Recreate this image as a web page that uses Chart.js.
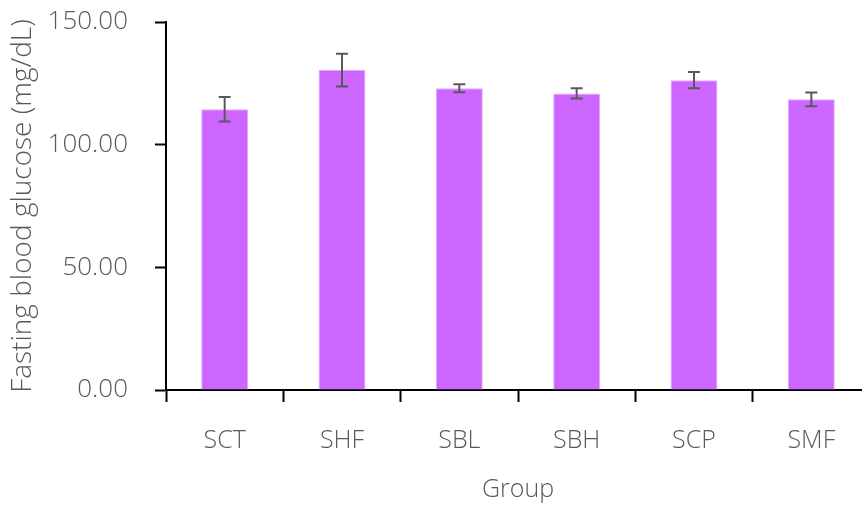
<!DOCTYPE html>
<html>
<head>
<meta charset="utf-8">
<script src="https://cdn.jsdelivr.net/npm/chart.js@4"></script>
<style>
  html, body { margin: 0; padding: 0; background: #fff; overflow: hidden; }
  #wrap { width: 862px; height: 509px; overflow: hidden; }
</style>
</head>
<body>
<div id="wrap"><canvas id="barChart" width="872" height="509"></canvas></div>
<script>
const groups = ["SCT", "SHF", "SBL", "SBH", "SCP", "SMF"];
const glucose = [114.4, 130.4, 123.0, 120.9, 126.3, 118.5];
const glucoseErr = [5.0, 6.7, 1.6, 2.1, 3.3, 2.8];
const yTicks = [0, 50, 100, 150];

const textColor = "#595959";
const fontFamily = "'Open Sans', 'Noto Sans', sans-serif";

// draws the +/- error whiskers on top of each bar
const errorBars = {
  id: "errorBars",
  afterDatasetsDraw(chart) {
    const ctx = chart.ctx;
    const meta = chart.getDatasetMeta(0);
    const yScale = chart.scales.y;
    ctx.save();
    ctx.strokeStyle = "#595959";
    ctx.lineWidth = 2;
    meta.data.forEach((bar, i) => {
      const x = bar.x;
      const top = yScale.getPixelForValue(glucose[i] + glucoseErr[i]);
      const bottom = yScale.getPixelForValue(glucose[i] - glucoseErr[i]);
      ctx.beginPath();
      ctx.moveTo(x, top);
      ctx.lineTo(x, bottom);
      ctx.moveTo(x - 6, top);
      ctx.lineTo(x + 6, top);
      ctx.moveTo(x - 6, bottom);
      ctx.lineTo(x + 6, bottom);
      ctx.stroke();
    });
    ctx.restore();
  },
};

const ctx = document.getElementById("barChart").getContext("2d");
new Chart(ctx, {
  type: "bar",
  data: {
    labels: groups,
    datasets: [
      {
        label: "Fasting blood glucose",
        data: glucose,
        backgroundColor: "#cc66ff",
        borderColor: "#e2a6ff",
        borderWidth: 1,
        categoryPercentage: 1,
        barPercentage: 0.4,
      },
    ],
  },
  options: {
    responsive: false,
    animation: false,
    layout: { padding: { top: 22, right: 2, left: 0, bottom: 0 } },
    plugins: {
      legend: { display: false },
      tooltip: { enabled: false },
    },
    scales: {
      x: {
        offset: true,
        grid: {
          offset: true,
          drawOnChartArea: false,
          drawTicks: true,
          tickLength: 12,
          tickColor: "#000",
          tickWidth: 2,
        },
        border: { color: "#000", width: 2 },
        ticks: {
          color: textColor,
          padding: 24,
          font: { family: fontFamily, size: 25, weight: 300 },
        },
        title: {
          display: true,
          text: "Group",
          color: textColor,
          padding: { top: 20 },
          font: { family: fontFamily, size: 25, weight: 300 },
        },
        afterFit: (scale) => {
          scale.height = 119;
          scale.paddingLeft = 0;
          scale.paddingRight = 0;
        },
      },
      y: {
        min: 0,
        max: 150,
        afterBuildTicks: (scale) => {
          scale.ticks = yTicks.map((v) => ({ value: v }));
        },
        grid: {
          drawOnChartArea: false,
          drawTicks: true,
          tickLength: 11,
          tickColor: "#000",
          tickWidth: 2,
        },
        border: { color: "#000", width: 2 },
        ticks: {
          color: textColor,
          padding: 27,
          font: { family: fontFamily, size: 26, weight: 300 },
          callback: (v) => Number(v).toFixed(2),
        },
        title: {
          display: true,
          text: "Fasting blood glucose (mg/dL)",
          color: textColor,
          padding: { top: 6, bottom: 0 },
          font: { family: fontFamily, size: 28, weight: 300 },
        },
        afterFit: (scale) => {
          scale.width = 166;
          scale.paddingTop = 0;
          scale.paddingBottom = 0;
        },
      },
    },
  },
  plugins: [errorBars],
});
</script>
</body>
</html>
